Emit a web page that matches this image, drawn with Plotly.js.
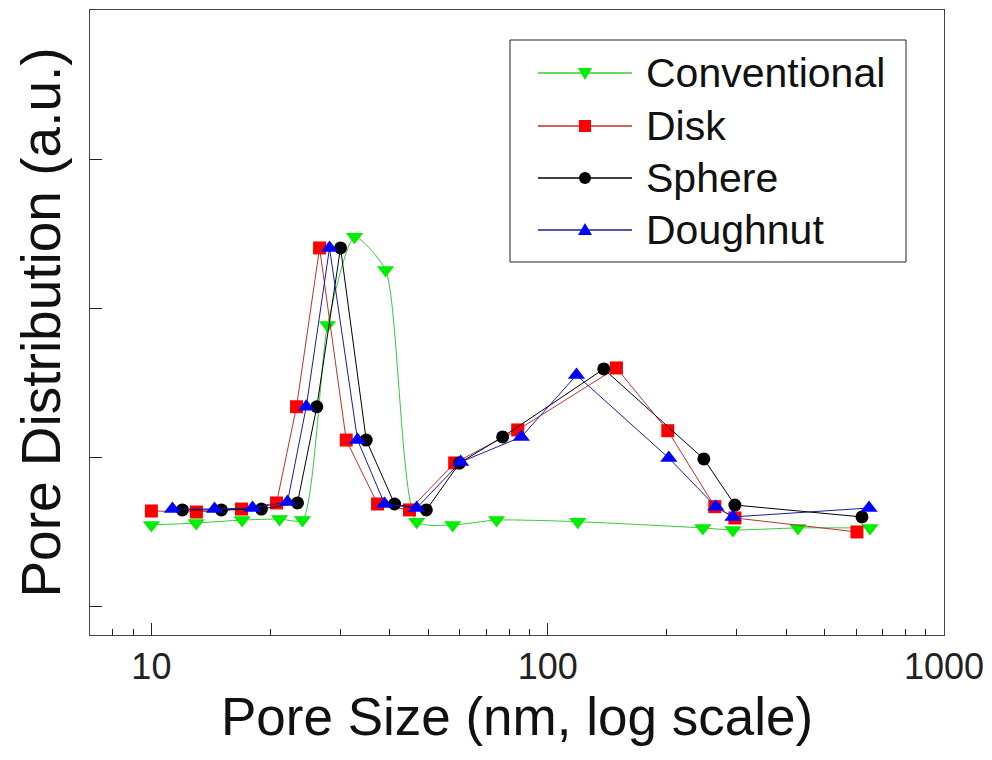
<!DOCTYPE html>
<html><head><meta charset="utf-8">
<script src="https://cdn.plot.ly/plotly-3.0.1.min.js"></script>
<style>html,body{margin:0;padding:0;background:#fff}#chart{width:992px;height:760px}</style>
</head><body><div id="chart"></div>
<script>
const seriesNames = ["Conventional", "Disk", "Sphere", "Doughnut"];

const conventionalX = [10, 12.97, 16.94, 21.05, 24.06, 27.83, 32.55, 38.98, 46.7, 57.56, 74.3, 119.1, 246.3, 293.3, 427.9, 650.6];
const conventionalY = [0.545, 0.558, 0.578, 0.585, 0.578, 1.890, 2.483, 2.260, 0.567, 0.545, 0.578, 0.567, 0.525, 0.511, 0.525, 0.525];

const diskX = [10, 12.99, 16.88, 20.69, 23.24, 26.57, 31.02, 37.21, 44.8, 58.25, 84.0, 149.1, 200.9, 264.1, 296.7, 603];
const diskY = [0.639, 0.632, 0.652, 0.693, 1.340, 2.408, 1.116, 0.686, 0.646, 0.962, 1.184, 1.601, 1.179, 0.668, 0.592, 0.498];

const sphereX = [11.97, 15.02, 18.95, 23.37, 26.15, 30.01, 34.84, 41.08, 49.4, 59.95, 76.97, 138.5, 247.7, 296.7, 620.9];
const sphereY = [0.646, 0.646, 0.652, 0.693, 1.340, 2.408, 1.116, 0.686, 0.646, 0.962, 1.137, 1.594, 0.989, 0.679, 0.599];

const doughnutX = [11.3, 14.43, 17.99, 22.05, 24.59, 28.15, 33.13, 38.76, 46.7, 60.3, 85.8, 118.2, 202.1, 265.6, 293.3, 646.9];
const doughnutY = [0.652, 0.652, 0.659, 0.699, 1.340, 2.408, 1.116, 0.686, 0.659, 0.968, 1.137, 1.553, 0.995, 0.668, 0.599, 0.659];

const xTickVals = [10, 100, 1000];
const xTickText = ["10", "100", "1000"];
const xMinorVals = [8, 9, 20, 30, 40, 50, 60, 70, 80, 90, 200, 300, 400, 500, 600, 700, 800, 900];
const yTickVals = [0, 1, 2, 3];

const FONT = '"Liberation Sans", Arial, sans-serif';

const styles = [
  {line: '#33cc33', marker: '#00ee00', symbol: 'triangle-down', size: 15, shape: 'spline'},
  {line: '#c03030', marker: '#ff0000', symbol: 'square', size: 13, shape: 'linear'},
  {line: '#000000', marker: '#000000', symbol: 'circle', size: 13, shape: 'linear'},
  {line: '#1a1aa8', marker: '#0000ff', symbol: 'triangle-up', size: 15, shape: 'linear'}
];
const xs = [conventionalX, diskX, sphereX, doughnutX];
const ys = [conventionalY, diskY, sphereY, doughnutY];

const traces = seriesNames.map((n, i) => ({
  x: xs[i], y: ys[i], name: n, mode: 'lines+markers', showlegend: false,
  line: {color: styles[i].line, width: 1, shape: styles[i].shape, smoothing: 0.6},
  marker: {symbol: styles[i].symbol, size: styles[i].size, color: styles[i].marker}
}));

// ---- custom legend (box, sample lines, symbols, labels) in pixel-based paper coords ----
const L = 90, B = 635, PW = 854, PH = 625;
const px = v => (v - L) / PW;
const py = v => (B - v) / PH;
const legendRows = [73, 126, 178, 230];
const shapes = [{type: 'rect', xref: 'paper', yref: 'paper',
  x0: px(510), x1: px(906), y0: py(262), y1: py(40),
  line: {color: '#222', width: 1}, fillcolor: '#ffffff', layer: 'below'}];
const annotations = [];
const symbolPaths = {
  'triangle-down': 'M-7,5 L7,5 L0,-7 Z',
  'triangle-up': 'M-7,-5 L7,-5 L0,7 Z'
};
seriesNames.forEach((n, i) => {
  const yc = py(legendRows[i]);
  shapes.push({type: 'line', xref: 'paper', yref: 'paper', x0: px(538), x1: px(632), y0: yc, y1: yc,
    line: {color: styles[i].line, width: 1.3}});
  const s = styles[i];
  if (s.symbol === 'square') {
    shapes.push({type: 'rect', xref: 'paper', yref: 'paper', xsizemode: 'pixel', ysizemode: 'pixel',
      xanchor: px(585), yanchor: yc, x0: -6, x1: 6, y0: -6, y1: 6, line: {width: 0}, fillcolor: s.marker});
  } else if (s.symbol === 'circle') {
    shapes.push({type: 'circle', xref: 'paper', yref: 'paper', xsizemode: 'pixel', ysizemode: 'pixel',
      xanchor: px(585), yanchor: yc, x0: -6, x1: 6, y0: -6, y1: 6, line: {width: 0}, fillcolor: s.marker});
  } else {
    shapes.push({type: 'path', xref: 'paper', yref: 'paper', xsizemode: 'pixel', ysizemode: 'pixel',
      xanchor: px(585), yanchor: yc, path: symbolPaths[s.symbol], line: {width: 0}, fillcolor: s.marker});
  }
  annotations.push({xref: 'paper', yref: 'paper', x: px(644), y: yc, xanchor: 'left', yanchor: 'middle',
    text: n, showarrow: false, font: {family: FONT, size: 41, color: '#111'}});
});

const layout = {
  width: 992, height: 760,
  margin: {l: 90, r: 48, t: 10, b: 125},
  paper_bgcolor: '#ffffff', plot_bgcolor: '#ffffff',
  font: {family: FONT, color: '#111'},
  showlegend: false,
  shapes: shapes,
  annotations: annotations,
  xaxis: {type: 'log', range: [Math.log10(7), 3],
    tickvals: xTickVals, ticktext: xTickText, ticks: 'inside', ticklen: 12, tickwidth: 1, tickcolor: '#222',
    minor: {tickvals: xMinorVals, ticks: 'inside', ticklen: 6, tickwidth: 1, tickcolor: '#222', showgrid: false},
    showgrid: false, zeroline: false, showline: true, linecolor: '#444', linewidth: 1, mirror: true,
    tickfont: {family: FONT, size: 36, color: '#222'},
    title: {text: 'Pore Size (nm, log scale)', font: {family: FONT, size: 53, color: '#111'}, standoff: 8}},
  yaxis: {range: [-0.195, 4.008], tickvals: yTickVals, showticklabels: false,
    ticks: 'inside', ticklen: 12, tickwidth: 1, tickcolor: '#222',
    showgrid: false, zeroline: false, showline: true, linecolor: '#444', linewidth: 1, mirror: true,
    title: {text: 'Pore Distribution (a.u.)', font: {family: FONT, size: 55, color: '#111'}, standoff: 10}}
};

Plotly.newPlot('chart', traces, layout, {displayModeBar: false, staticPlot: true});
</script>
</body></html>
